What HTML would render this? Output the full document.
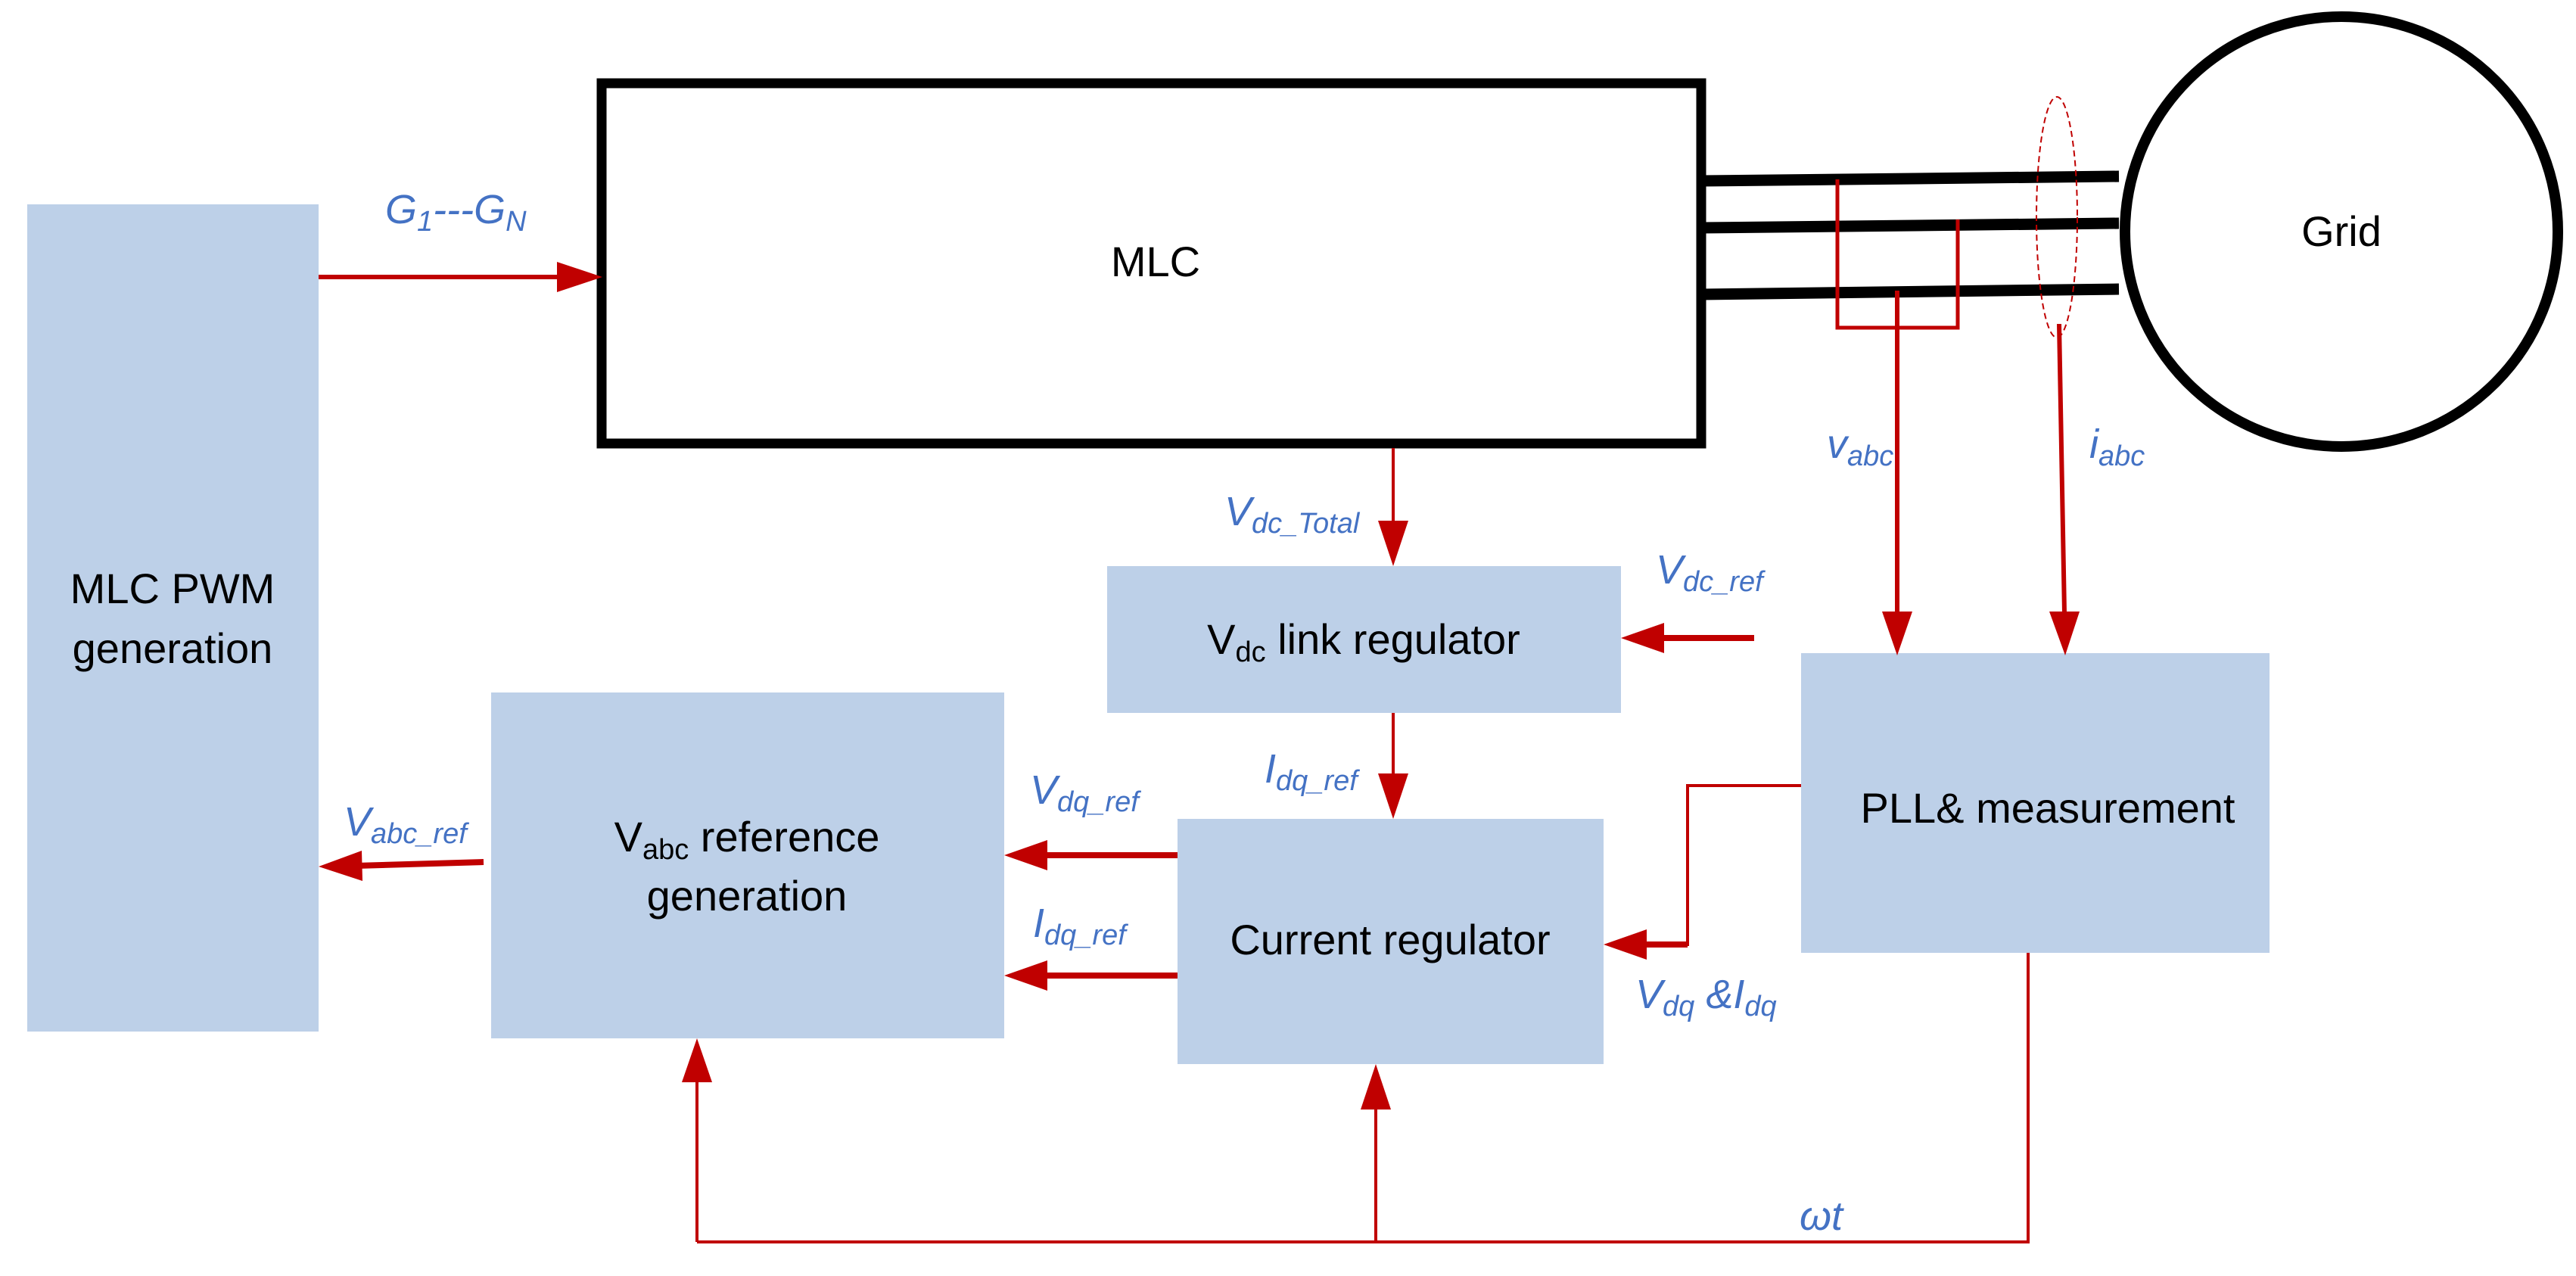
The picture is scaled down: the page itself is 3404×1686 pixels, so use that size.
<!DOCTYPE html>
<html><head><meta charset="utf-8"><style>
html,body{margin:0;padding:0;background:#fff;}
svg{display:block;}
text{font-family:"Liberation Sans",sans-serif;}
.b{fill:#000;font-size:56px;}
.l{fill:#4472C4;font-size:54px;font-style:italic;}
.s{font-size:38px;}
</style></head><body>
<svg width="3404" height="1686" viewBox="0 0 3404 1686" xmlns="http://www.w3.org/2000/svg">
<!-- boxes -->
<rect x="36" y="270" width="385" height="1093" fill="#BDD0E8"/>
<rect x="649" y="915" width="678" height="457" fill="#BDD0E8"/>
<rect x="1463" y="748" width="679" height="194" fill="#BDD0E8"/>
<rect x="1556" y="1082" width="563" height="324" fill="#BDD0E8"/>
<rect x="2380" y="863" width="619" height="396" fill="#BDD0E8"/>
<!-- MLC -->
<rect x="795" y="110" width="1453" height="476" fill="#fff" stroke="#000" stroke-width="13"/>
<!-- three phase lines -->
<g stroke="#000" stroke-width="15">
<line x1="2248" y1="239" x2="2800" y2="233"/>
<line x1="2248" y1="301" x2="2800" y2="295"/>
<line x1="2248" y1="389" x2="2800" y2="382"/>
</g>
<ellipse cx="3094" cy="306" rx="286" ry="284" fill="#fff" stroke="#000" stroke-width="14"/>
<ellipse cx="2718" cy="287" rx="27" ry="159" fill="none" stroke="#C00000" stroke-width="2" stroke-dasharray="8,5"/>
<!-- red wires -->
<g fill="none" stroke="#C00000">
<polyline points="2428,237 2428,433 2587,433 2587,290" stroke-width="5"/>
<line x1="2507" y1="384" x2="2507" y2="810" stroke-width="6"/>
<line x1="2721" y1="428" x2="2728" y2="810" stroke-width="6"/>
<line x1="421" y1="366" x2="740" y2="366" stroke-width="6"/>
<line x1="1841" y1="592" x2="1841" y2="700" stroke-width="4"/>
<line x1="2318" y1="843" x2="2190" y2="843" stroke-width="8"/>
<line x1="1841" y1="942" x2="1841" y2="1030" stroke-width="4"/>
<line x1="1556" y1="1130" x2="1370" y2="1130" stroke-width="8"/>
<line x1="1556" y1="1289" x2="1370" y2="1289" stroke-width="8"/>
<line x1="639" y1="1139" x2="470" y2="1144" stroke-width="8"/>
<polyline points="2380,1038 2230,1038 2230,1248 2160,1248" stroke-width="4"/>
<line x1="2230" y1="1248" x2="2160" y2="1248" stroke-width="8"/>
<polyline points="2680,1259 2680,1641 921,1641" stroke-width="4"/>
<line x1="921" y1="1641" x2="921" y2="1420" stroke-width="4"/>
<line x1="1818" y1="1641" x2="1818" y2="1460" stroke-width="4"/>
</g>
<!-- arrowheads -->
<g fill="#C00000">
<polygon points="2487,808 2527,808 2507,866"/>
<polygon points="2708,808 2748,808 2729,866"/>
<polygon points="736,346 736,386 796,366"/>
<polygon points="1821,688 1861,688 1841,748"/>
<polygon points="2199,823 2199,863 2142,843"/>
<polygon points="1821,1022 1861,1022 1841,1082"/>
<polygon points="1384,1110 1384,1150 1327,1130"/>
<polygon points="1384,1269 1384,1309 1327,1289"/>
<polygon points="478,1124 479,1164 421,1145"/>
<polygon points="2176,1228 2176,1268 2119,1248"/>
<polygon points="901,1430 941,1430 921,1372"/>
<polygon points="1798,1466 1838,1466 1818,1406"/>
</g>
<!-- block texts -->
<text class="b" x="1527" y="365" text-anchor="middle">MLC</text>
<text class="b" x="3094" y="325" text-anchor="middle">Grid</text>
<text class="b" x="228" y="797" text-anchor="middle">MLC PWM</text>
<text class="b" x="228" y="876" text-anchor="middle">generation</text>
<text class="b" x="987" y="1125" text-anchor="middle">V<tspan class="s" dy="10">abc</tspan><tspan dy="-10"> reference</tspan></text>
<text class="b" x="987" y="1203" text-anchor="middle">generation</text>
<text class="b" x="1802" y="864" text-anchor="middle">V<tspan class="s" dy="10">dc</tspan><tspan dy="-10"> link regulator</tspan></text>
<text class="b" x="1837" y="1261" text-anchor="middle">Current regulator</text>
<text class="b" x="2706" y="1087" text-anchor="middle">PLL&amp; measurement</text>
<!-- labels -->
<text class="l" x="509" y="295">G<tspan class="s" dy="10">1</tspan><tspan dy="-10">---G</tspan><tspan class="s" dy="10">N</tspan></text>
<text class="l" x="1618" y="694">V<tspan class="s" dy="10">dc_Total</tspan></text>
<text class="l" x="2188" y="771">V<tspan class="s" dy="10">dc_ref</tspan></text>
<text class="l" x="1671" y="1034">I<tspan class="s" dy="10">dq_ref</tspan></text>
<text class="l" x="1361" y="1062">V<tspan class="s" dy="10">dq_ref</tspan></text>
<text class="l" x="1365" y="1238">I<tspan class="s" dy="10">dq_ref</tspan></text>
<text class="l" x="2161" y="1332">V<tspan class="s" dy="10">dq</tspan><tspan dy="-10"> &amp;I</tspan><tspan class="s" dy="10">dq</tspan></text>
<text class="l" x="454" y="1104">V<tspan class="s" dy="10">abc_ref</tspan></text>
<text class="l" x="2414" y="605">v<tspan class="s" dy="10">abc</tspan></text>
<text class="l" x="2761" y="605">i<tspan class="s" dy="10">abc</tspan></text>
<text class="l" x="2378" y="1625">ωt</text>
</svg>
</body></html>
